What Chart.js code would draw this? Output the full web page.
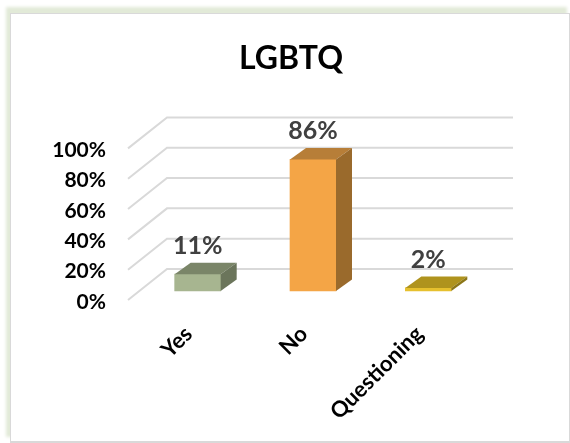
<!DOCTYPE html>
<html>
<head>
<meta charset="utf-8">
<script src="https://cdn.jsdelivr.net/npm/chart.js@4"></script>
<style>
  html, body { margin: 0; padding: 0; background: #fff; overflow: hidden; }
  #frame {
    position: absolute; left: 10px; top: 13px; width: 558px; height: 427px;
    border: 1px solid #d9d9d9; border-width: 1px 2px 2px 1px;
    box-shadow: -4px -6px 3px #e2ead8;
  }
  canvas { position: absolute; left: 0; top: 0; }
</style>
</head>
<body>
<div id="frame"></div>
<canvas id="lgbtqChart" width="570" height="443"></canvas>
<script>
// LGBTQ survey answers, percent
const categories = ['Yes', 'No', 'Questioning'];
const percentValues = [11, 86, 2];
const tickValues = [0, 20, 40, 60, 80, 100];

const frontColors = ['#a7b590', '#f4a546', '#e6c02e'];
const topColors = ['#7a8568', '#b77e38', '#af931d'];
const sideColors = ['#6b755b', '#9a6a2c', '#8c7617'];

const labelFont = '"Lato", "Open Sans", sans-serif';

// 3D look: walls behind the bars, then side and top faces on each bar
const fake3d = {
  id: 'fake3d',
  beforeDatasetsDraw(chart) {
    const { ctx, chartArea, scales } = chart;
    ctx.save();
    ctx.strokeStyle = '#d9d9d9';
    ctx.lineWidth = 2;
    tickValues.forEach(v => {
      const y = scales.y.getPixelForValue(v);
      ctx.beginPath();
      ctx.moveTo(chartArea.left - 12, y);
      ctx.lineTo(chartArea.left + 27, y - 31);
      ctx.lineTo(chartArea.right + 27, y - 31);
      ctx.stroke();
    });
    ctx.restore();
  },
  afterDatasetsDraw(chart) {
    const { ctx } = chart;
    const dx = 16, dy = 11.5;
    ctx.save();
    chart.getDatasetMeta(0).data.forEach((bar, i) => {
      const left = bar.x - bar.width / 2;
      const right = bar.x + bar.width / 2;
      ctx.fillStyle = topColors[i];
      ctx.beginPath();
      ctx.moveTo(left, bar.y);
      ctx.lineTo(left + dx, bar.y - dy);
      ctx.lineTo(right + dx, bar.y - dy);
      ctx.lineTo(right, bar.y);
      ctx.closePath();
      ctx.fill();
      ctx.fillStyle = sideColors[i];
      ctx.beginPath();
      ctx.moveTo(right, bar.y);
      ctx.lineTo(right + dx, bar.y - dy);
      ctx.lineTo(right + dx, bar.base - dy);
      ctx.lineTo(right, bar.base);
      ctx.closePath();
      ctx.fill();
      // value label
      ctx.fillStyle = '#404040';
      ctx.font = 'bold 25px ' + labelFont;
      ctx.textAlign = 'center';
      ctx.textBaseline = 'middle';
      ctx.fillText(percentValues[i] + '%', bar.x, bar.y - 28);
    });
    ctx.restore();
  }
};

new Chart(document.getElementById('lgbtqChart').getContext('2d'), {
  type: 'bar',
  data: {
    labels: categories,
    datasets: [{
      data: percentValues,
      yAxisID: 'yBar',
      backgroundColor: frontColors,
      barThickness: 46
    }]
  },
  plugins: [fake3d],
  options: {
    responsive: false,
    animation: false,
    layout: { padding: { top: 25, right: 0, left: 12, bottom: 0 } },
    plugins: {
      legend: { display: false },
      tooltip: { enabled: false },
      title: {
        display: true,
        text: 'LGBTQ',
        color: '#000',
        font: { family: labelFont, size: 32, weight: 'bold', lineHeight: 1.2 },
        padding: { top: 14, bottom: 71 }
      }
    },
    scales: {
      x: {
        grid: { display: false },
        border: { display: false },
        afterFit(scale) { scale.height = 143; },
        ticks: {
          color: '#000',
          font: { family: labelFont, size: 22, weight: 'bold' },
          minRotation: 45,
          maxRotation: 45,
          padding: 13,
          labelOffset: -9
        }
      },
      y: {
        min: 0,
        max: 100,
        grid: { display: false },
        border: { display: false },
        afterFit(scale) { scale.width = 128; },
        afterBuildTicks(scale) { scale.ticks = tickValues.map(v => ({ value: v })); },
        ticks: {
          color: '#000',
          font: { family: labelFont, size: 21, weight: 'bold' },
          padding: 26,
          labelOffset: 2,
          callback: v => v + '%'
        }
      },
      // bars stand a little inside the floor, so they get their own scale
      // with no visible ticks; it also holds the space right of the plot
      yBar: {
        position: 'right',
        min: -5.9,
        max: 93.2,
        grid: { display: false },
        border: { display: false },
        ticks: { display: false },
        afterFit(scale) { scale.width = 84; }
      }
    }
  }
});
</script>
</body>
</html>
